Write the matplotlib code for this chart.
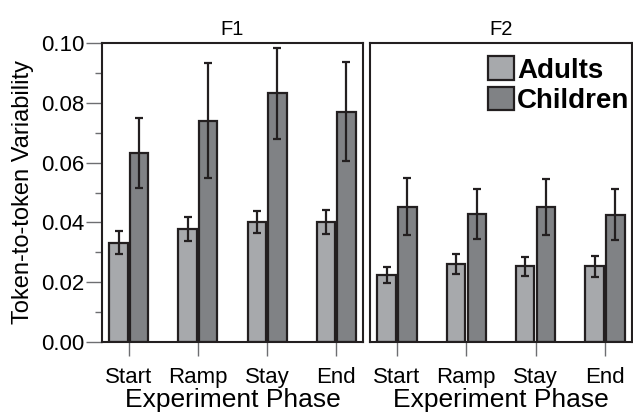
import matplotlib
matplotlib.use("Agg")
import matplotlib.pyplot as plt
from matplotlib.patches import Patch
from matplotlib.ticker import MultipleLocator

plt.rcParams['font.family'] = ['Liberation Sans', 'DejaVu Sans']

phases = ["Start", "Ramp", "Stay", "End"]

# F1
f1_adults = [0.0332, 0.0377, 0.0400, 0.0400]
f1_adults_err = [0.0038, 0.0040, 0.0037, 0.0040]
f1_children = [0.0632, 0.0740, 0.0832, 0.0770]
f1_children_err = [0.0118, 0.0192, 0.0152, 0.0165]

# F2
f2_adults = [0.0224, 0.0261, 0.0253, 0.0253]
f2_adults_err = [0.0028, 0.0033, 0.0031, 0.0034]
f2_children = [0.0452, 0.0428, 0.0452, 0.0426]
f2_children_err = [0.0095, 0.0084, 0.0094, 0.0085]

adult_col = "#a7a9ac"
child_col = "#808285"
edge = "#231f20"
tick_col = "#6d6e71"

W, H = 633, 418
fig = plt.figure(figsize=(W / 100, H / 100), dpi=100)


def px_axes(x0, y0, x1, y1):
    return fig.add_axes([x0 / W, 1 - y1 / H, (x1 - x0) / W, (y1 - y0) / H])


ax1 = px_axes(102, 43, 363, 342)
ax2 = px_axes(370, 43, 632, 342)

x = list(range(len(phases)))
bw = 0.265
off = 0.15

for ax, a, ae, c, ce, title in [
    (ax1, f1_adults, f1_adults_err, f1_children, f1_children_err, "F1"),
    (ax2, f2_adults, f2_adults_err, f2_children, f2_children_err, "F2"),
]:
    ax.bar([i - off for i in x], a, bw, color=adult_col, edgecolor=edge, linewidth=1.6, zorder=2)
    ax.bar([i + off for i in x], c, bw, color=child_col, edgecolor=edge, linewidth=1.6, zorder=2)
    ax.errorbar([i - off for i in x], a, yerr=ae, fmt="none", ecolor=edge,
                elinewidth=1.6, capsize=2.8, capthick=1.6, zorder=3)
    ax.errorbar([i + off for i in x], c, yerr=ce, fmt="none", ecolor=edge,
                elinewidth=1.6, capsize=2.8, capthick=1.6, zorder=3)
    ax.set_xlim(-0.39, 3.39)
    ax.set_ylim(0, 0.1)
    ax.set_xticks(x)
    ax.set_xticklabels(phases, fontsize=16)
    ax.tick_params(axis="x", direction="out", length=10, width=1, color=tick_col, pad=8)
    ax.set_xlabel("Experiment Phase", fontsize=19, labelpad=0)
    ax.set_title(title, fontsize=14.5, pad=6)
    for s in ax.spines.values():
        s.set_linewidth(1.5)
        s.set_color(edge)

ax1.yaxis.set_major_locator(MultipleLocator(0.02))
ax1.yaxis.set_minor_locator(MultipleLocator(0.01))
ax1.set_yticklabels([f"{v:.2f}" for v in ax1.get_yticks()], fontsize=16)
ax1.tick_params(axis="y", which="major", direction="out", length=11.5, width=1, color=tick_col, pad=1)
ax1.tick_params(axis="y", which="minor", direction="out", length=5, width=1, color=tick_col)
ax1.set_ylabel("Token-to-token Variability", fontsize=17, labelpad=5)

ax2.set_yticks([])

handles = [Patch(facecolor=adult_col, edgecolor=edge, linewidth=1.6, label="Adults"),
           Patch(facecolor=child_col, edgecolor=edge, linewidth=1.6, label="Children")]
ax2.legend(handles=handles, loc="upper right", bbox_to_anchor=(0.99, 0.955),
           frameon=False, borderpad=0, borderaxespad=0,
           prop={"weight": "bold", "size": 20}, handlelength=0.95, handleheight=0.9,
           handletextpad=0.1, labelspacing=0.12)

fig.savefig("out.png", dpi=100)
